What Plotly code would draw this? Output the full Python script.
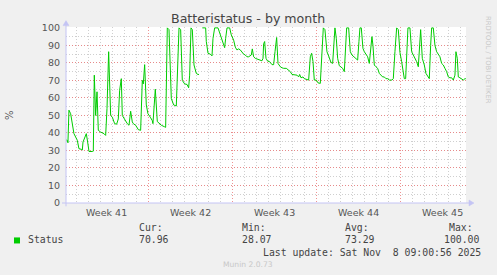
import pandas as pd
import plotly.graph_objects as go

# ---------------- data ----------------
START = "2025-10-06 00:00"
HOURS = [3.0, 5.4, 6.7, 8.7, 12.1, 15.4, 18.7, 25.4, 28.7, 34.1, 35.4, 36.8, 40.8, 43.4, 46.1, 48.8,
         55.4, 57.4, 59.4, 62.1, 64.8, 67.4, 72.1, 78.8, 82.1, 84.8, 88.1, 92.1, 95.4, 100.1, 104.1,
         107.4, 110.1, 113.4, 115.4, 120.8, 125.4, 128.8, 132.1, 135.4, 137.4, 142.1, 147.4, 152.1,
         155.4, 157.4, 160.1, 163.4, 166.7, 171.4, 175.4, 176.7, 181.4, 185.4, 193.4, 200.1, 202.1,
         205.4, 208.8, 213.4, 218.1, 223.4, 226.8, 228.8, 232.1, 235.4, 240.1, 244.8, 248.1, 250.1,
         252.8, 255.4, 258.8, 263.4, 266.8, 268.8, 272.0, 275.4, 282.1, 283.4, 286.8, 291.4, 294.8,
         296.8, 300.1, 306.8, 310.1, 313.4, 316.8, 320.1, 322.1, 324.8, 330.1, 333.4, 338.1, 341.4,
         344.7, 348.1, 351.4, 354.7, 358.1, 361.4, 364.7, 368.1, 371.4, 373.4, 375.4, 378.1, 381.4,
         384.7, 388.1, 394.7, 396.8, 398.1, 400.1, 402.8, 406.1, 410.1, 414.8, 418.1, 420.8, 424.1,
         426.8, 431.4, 434.8, 438.1, 443.4, 448.1, 451.4, 454.8, 461.4, 464.8, 468.1, 470.1, 472.8,
         476.8, 479.4, 483.4, 488.1, 491.4, 494.1, 496.8, 499.4, 503.4, 506.8, 511.4, 514.1, 517.4,
         520.7, 524.7, 527.4, 530.1, 532.7, 536.1, 538.1, 540.7, 543.4, 546.1, 549.4, 552.7, 556.1,
         559.4, 562.1, 564.1, 568.1, 571.4, 574.7, 578.1, 582.7, 586.1, 588.7, 590.7, 593.4, 596.7,
         599.4, 602.7, 606.1, 609.4, 612.7, 614.7, 616.7, 619.4, 622.7, 626.1, 629.4, 632.7, 636.1,
         639.4, 642.7, 646.1, 649.4, 654.7, 657.4, 660.7, 664.1, 667.4, 670.7, 674.1, 677.4, 679.4,
         682.1, 684.7, 686.7, 690.7, 694.1, 697.4, 700.7, 704.1, 707.4, 710.1, 712.1, 715.4, 719.4,
         722.7, 726.1, 729.4, 732.1, 734.1, 737.4, 740.7, 744.1, 747.4, 750.7, 754.1, 757.4, 760.7,
         764.1, 767.4, 770.7, 774.1, 777.4, 780.7, 782.7, 785.4, 787.4, 790.7, 794.1, 797.4, 800.7,
         802.5]
STATUS = [36, 35.8, 34.4, 53, 51, 44.4, 39.6, 35.8, 31, 30.6, 30.2, 34.8, 38.6, 39.6, 34.8, 29.4,
          29.4, 29.6, 73, 50, 63.5, 41.5, 40.5, 39.6, 38.6, 54, 86.4, 50, 49, 45.3, 45,
          48, 64.4, 71, 50, 47, 45.3, 44.4, 52.4, 46.3, 45.3, 44.4, 41.9, 41.5,
          70, 68, 79, 56, 51, 49, 47, 45.3, 65, 46.5, 44.4, 43.5, 43.2,
          100, 99, 59.7, 56, 55.4, 82.6, 100, 99, 70, 68, 67.7, 65.8, 73,
          100, 99, 78.8, 74, 73.4, 73.4, None, 100, 100, 92.2, 85.5, 85, 84,
          94, 100, 100, 97, 94, 91, 88.7, 94, 100, 100, 96, 93, 89,
          87.4, 88, 87.4, 86, 85, 84.5, 83.5, 83.5, 84, 84.5, 88, 83.5, 82.6,
          82.3, 81.6, 81.2, 82.6, 91, 92.2, 82.6, 81, 80.7, 79, 79, 86.4, 94.5,
          79.7, 77.8, 77.2, 76.9, 76.9, 75.9, 75, 73.4, 73.4, 73, 72, 73.4, 71.5,
          72, 71, 70.8, 70.2, 83.5, 85.5, 80.7, 70.2, 70.2, 68.6, 68.3, 82.6, 100,
          99, 86.4, 84.5, 82.6, 80.3, 79.7, 90, 100, 94, 82.6, 78.4, 77.8, 76.9,
          75, 90, 100, 100, 86.4, 84.5, 83.5, 82.6, 81.6, 92.2, 100, 100, 88.3,
          86.4, 85, 83.5, 79.7, 90, 95, 90, 78.8, 77.8, 76.9, 74, 73, 72,
          72, 71, 71, 70.2, 70.2, 71, 86.4, 100, 99, 86, 80.7, 73, 71,
          71, 90, 100, 100, 86.4, 84.5, 82.6, 80.7, 77.8, 90, 99, 82.6, 78.8,
          74, 72, 71, 90, 100, 100, 90, 86.4, 85, 83.5, 79.7, 78.8, 76.9,
          75, 72, 71.5, 71.5, 70.2, 73, 86.4, 82.6, 72, 71.5, 71, 70.2, 71,
          70.96]

WEEK_STARTS = ["2025-10-13", "2025-10-20", "2025-10-27", "2025-11-03"]
WEEK_CENTERS = ["2025-10-09 12:00", "2025-10-16 12:00", "2025-10-23 12:00",
                "2025-10-30 12:00", "2025-11-06 12:00"]
WEEK_LABELS = ["Week 41", "Week 42", "Week 43", "Week 44", "Week 45"]
Y_TICKS = [0, 10, 20, 30, 40, 50, 60, 70, 80, 90, 100]

TITLE = "Batteristatus - by month"
SERIES = "Status"
STAT_NAMES = ["Cur:", "Min:", "Avg:", "Max:"]
STAT_VALUES = ["70.96", "28.07", "73.29", "100.00"]
LAST_UPDATE = "Last update: Sat Nov\u00a0 8 09:00:56 2025"
FOOTER = "Munin 2.0.73"
SIDE_TEXT = "RRDTOOL / TOBI OETIKER"

# ---------------- figure ----------------
t0 = pd.Timestamp(START)
times = [t0 + pd.Timedelta(hours=h) for h in HOURS]
x_range = [t0 + pd.Timedelta(hours=2.8), t0 + pd.Timedelta(hours=802.8)]
# daily minor grid, skipping the week boundaries (drawn in red)
day_lines = [d for d in pd.date_range("2025-10-07", "2025-11-08", freq="D")
             if d.strftime("%Y-%m-%d") not in WEEK_STARTS]

W, H = 497, 275
L, R, T, B = 66, 31, 27.4, 72.3
PW, PH = W - L - R, H - T - B


def px(x):
    return (x - L) / PW


def py(y):
    return (H - B - y) / PH


AXIS_COL = "#c4c4f4"
MAJOR_GRID = "rgba(235,120,120,0.8)"
MINOR_GRID = "#cfcfcf"
TXT = "#555555"
MONO = "DejaVu Sans Mono"

fig = go.Figure()
fig.add_trace(go.Scatter(x=times, y=STATUS, mode="lines",
                         line=dict(color="#00cc00", width=1),
                         connectgaps=False, hoverinfo="skip"))
# empty helper trace so that the label axis (x2) is drawn
fig.add_trace(go.Scatter(x=[WEEK_CENTERS[0]], y=[None], xaxis="x2", mode="lines",
                         hoverinfo="skip"))

shapes = []
# axis lines with arrows
shapes.append(dict(type="line", xref="paper", yref="paper", x0=px(62), x1=px(470), y0=0, y1=0,
                   line=dict(color=AXIS_COL, width=1)))
shapes.append(dict(type="line", xref="paper", yref="paper", x0=0, x1=0, y0=py(206), y1=py(25),
                   line=dict(color=AXIS_COL, width=1)))
shapes.append(dict(type="path", xref="paper", yref="paper",
                   path=f"M {px(469)},{py(199.7)} L {px(474)},{py(202.7)} L {px(469)},{py(205.7)} Z",
                   fillcolor=AXIS_COL, line=dict(color=AXIS_COL, width=0.5)))
shapes.append(dict(type="path", xref="paper", yref="paper",
                   path=f"M {px(63)},{py(26)} L {px(66)},{py(21)} L {px(69)},{py(26)} Z",
                   fillcolor=AXIS_COL, line=dict(color=AXIS_COL, width=0.5)))
# legend colour box
shapes.append(dict(type="rect", xref="paper", yref="paper", x0=px(14), x1=px(20),
                   y0=py(243), y1=py(237), fillcolor="#00cc00", line=dict(width=0)))

ann = []
ann.append(dict(text=TITLE, x=px(247.5), y=py(19), xref="paper", yref="paper", showarrow=False,
                xanchor="center", yanchor="middle",
                font=dict(family="DejaVu Sans", size=12.6, color="#444444")))
ann.append(dict(text="%", x=px(10), y=py(115), xref="paper", yref="paper", showarrow=False,
                textangle=-90, xanchor="center", yanchor="middle",
                font=dict(family="DejaVu Sans", size=10, color=TXT)))
ann.append(dict(text=SIDE_TEXT, x=px(488.5), y=py(15), xref="paper", yref="paper", showarrow=False,
                textangle=90, xanchor="center", yanchor="top",
                font=dict(family="DejaVu Sans", size=6.8, color="#c8c8c8")))
ann.append(dict(text=SERIES, x=px(26), y=py(239.5), xref="paper", yref="paper", showarrow=False,
                xanchor="left", yanchor="middle", font=dict(family=MONO, size=9.8, color="#444444")))
stat_x = [136.5, 240, 343, 441.7]
head_x = [136.5, 240, 343, 447]
for name, val, hx, vx in zip(STAT_NAMES, STAT_VALUES, head_x, stat_x):
    ann.append(dict(text=name, x=px(hx), y=py(227.5), xref="paper", yref="paper", showarrow=False,
                    xanchor="left", yanchor="middle", font=dict(family=MONO, size=9.8, color="#444444")))
    ann.append(dict(text=val, x=px(vx), y=py(239.5), xref="paper", yref="paper", showarrow=False,
                    xanchor="left", yanchor="middle", font=dict(family=MONO, size=9.8, color="#444444")))
ann.append(dict(text=LAST_UPDATE, x=px(483), y=py(251.8), xref="paper", yref="paper", showarrow=False,
                xanchor="right", yanchor="middle", font=dict(family=MONO, size=9.8, color="#444444")))
ann.append(dict(text=FOOTER, x=px(248), y=py(264), xref="paper", yref="paper", showarrow=False,
                xanchor="center", yanchor="middle",
                font=dict(family="DejaVu Sans", size=7.6, color="#c8c8c8")))

fig.update_layout(
    width=W, height=H,
    margin=dict(l=L, r=R, t=T, b=B, pad=0),
    paper_bgcolor="#f0f0f0", plot_bgcolor="#ffffff",
    showlegend=False,
    font=dict(family="DejaVu Sans", size=9.5, color=TXT),
    shapes=shapes, annotations=ann,
    # grid axis: red week lines + grey daily lines, no labels
    xaxis=dict(type="date", range=x_range, tickmode="array", tickvals=WEEK_STARTS,
               showticklabels=False, ticks="", showgrid=True, gridcolor=MAJOR_GRID,
               griddash="1px,2px", gridwidth=1, zeroline=False, showline=False,
               minor=dict(tickmode="array", tickvals=day_lines,
                          showgrid=True, gridcolor=MINOR_GRID, griddash="1px,2px", gridwidth=1,
                          ticks="", ticklen=0),
               fixedrange=True),
    # label axis: week names centred in each week
    xaxis2=dict(type="date", overlaying="x", matches="x", anchor="y", side="bottom",
                tickmode="array", tickvals=WEEK_CENTERS, ticktext=WEEK_LABELS, ticks="",
                showgrid=False, zeroline=False, showline=False, ticklabelstandoff=2,
                tickfont=dict(family="DejaVu Sans", size=9.5, color=TXT), fixedrange=True),
    yaxis=dict(range=[0, 100.5], tickmode="array", tickvals=Y_TICKS, ticks="",
               showgrid=True, gridcolor=MAJOR_GRID, griddash="1px,2px", gridwidth=1,
               zeroline=False, showline=False, ticklabelstandoff=5,
               tickfont=dict(family="DejaVu Sans", size=9.5, color=TXT),
               minor=dict(tickmode="linear", tick0=0, dtick=5, showgrid=True,
                          gridcolor=MINOR_GRID, griddash="1px,2px", gridwidth=1),
               fixedrange=True),
)

fig.write_html("out.html")
